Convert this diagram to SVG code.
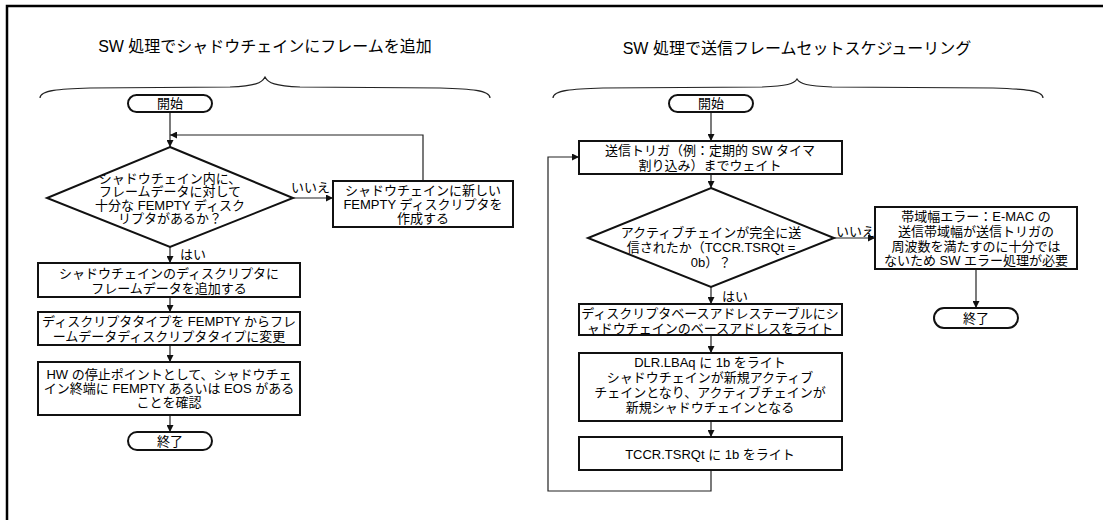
<svg xmlns="http://www.w3.org/2000/svg" width="1103" height="520" viewBox="0 0 1103 520">
<style>
text{font-family:"Liberation Sans","Noto Sans CJK JP",sans-serif;font-size:13px;fill:#000;text-anchor:middle;dominant-baseline:central}
.title{font-size:16px}
.box{fill:#fff;stroke:#111;stroke-width:2}
.term{fill:#fff;stroke:#111;stroke-width:2}
.dia{fill:#fff;stroke:#111;stroke-width:2}
.ln{fill:none;stroke:#222;stroke-width:1.2}
.brace{fill:none;stroke:#222;stroke-width:1.2}
.lbl{text-anchor:start}
</style>
<defs>
<marker id="ah" viewBox="0 0 10 10" refX="10" refY="5" markerWidth="9" markerHeight="7" markerUnits="userSpaceOnUse" orient="auto">
<path d="M0,0 L10,5 L0,10 z" fill="#111"/>
</marker>
</defs>
<rect x="7" y="6" width="1120" height="540" fill="none" stroke="#000" stroke-width="2.5"/>
<g id="titles">
<text class="title" x="265" y="46">SW 処理でシャドウチェインにフレームを追加</text>
<text class="title" x="797" y="48">SW 処理で送信フレームセットスケジューリング</text>
<path class="brace" d="M40,98 C40,90 60,89 90,88 L230,87 C255,86 262,83 265,77 C268,83 275,86 300,87 L440,88 C470,89 490,90 490,98"/>
<path class="brace" d="M553,98 C553,90 573,89 603,88 L762,87 C787,86 794,84 797,79 C800,84 807,86 832,87 L993,88 C1023,89 1043,90 1043,98"/>
</g>
<g id="connectors">
<path class="ln" d="M170,112 L170,147" marker-end="url(#ah)"/>
<path class="ln" d="M423,181 L423,135 L170,135" marker-end="url(#ah)"/>
<path class="ln" d="M293,198 L333,198" marker-end="url(#ah)"/>
<path class="ln" d="M170,247 L170,263" marker-end="url(#ah)"/>
<path class="ln" d="M170,297 L170,312" marker-end="url(#ah)"/>
<path class="ln" d="M170,345 L170,362" marker-end="url(#ah)"/>
<path class="ln" d="M170,415 L170,432" marker-end="url(#ah)"/>
<path class="ln" d="M711,112 L711,141" marker-end="url(#ah)"/>
<path class="ln" d="M711,174 L711,188" marker-end="url(#ah)"/>
<path class="ln" d="M834,238 L875,238" marker-end="url(#ah)"/>
<path class="ln" d="M976,269 L976,308" marker-end="url(#ah)"/>
<path class="ln" d="M711,287 L711,304" marker-end="url(#ah)"/>
<path class="ln" d="M711,335 L711,353" marker-end="url(#ah)"/>
<path class="ln" d="M711,421 L711,437" marker-end="url(#ah)"/>
<path class="ln" d="M711,470 L711,491 L548,491 L548,157 L579,157" marker-end="url(#ah)"/>
<text class="lbl" x="291" y="187">いいえ</text>
<text class="lbl" x="180" y="254">はい</text>
<text class="lbl" x="836" y="231">いいえ</text>
<text class="lbl" x="722" y="296">はい</text>
</g>
<g id="l_start">
<rect class="term" x="128" y="95" width="84" height="17" rx="8.5"/>
<text x="170" y="103.5">開始</text>
</g>
<g id="l_decision">
<polygon class="dia" points="170,147 293,198 170,247 47,198"/>
<text x="170" y="178">シャドウチェイン内に、</text>
<text x="170" y="191.5">フレームデータに対して</text>
<text x="170" y="205">十分な FEMPTY ディスク</text>
<text x="170" y="218.5">リプタがあるか？</text>
</g>
<g id="l_create">
<rect class="box" x="333" y="181" width="180" height="46"/>
<text x="423" y="190">シャドウチェインに新しい</text>
<text x="423" y="204">FEMPTY ディスクリプタを</text>
<text x="423" y="218">作成する</text>
</g>
<g id="l_add">
<rect class="box" x="38" y="263" width="262" height="34"/>
<text x="169" y="273.5">シャドウチェインのディスクリプタに</text>
<text x="169" y="288">フレームデータを追加する</text>
</g>
<g id="l_change">
<rect class="box" x="38" y="312" width="262" height="33"/>
<text x="169" y="321.5">ディスクリプタタイプを FEMPTY からフレ</text>
<text x="169" y="336">ームデータディスクリプタタイプに変更</text>
</g>
<g id="l_confirm">
<rect class="box" x="38" y="362" width="262" height="53"/>
<text x="169" y="374">HW の停止ポイントとして、シャドウチェ</text>
<text x="169" y="388">イン終端に FEMPTY あるいは EOS がある</text>
<text x="169" y="402">ことを確認</text>
</g>
<g id="l_end">
<rect class="term" x="128" y="432" width="84" height="18" rx="9"/>
<text x="170" y="441">終了</text>
</g>
<g id="r_start">
<rect class="term" x="669" y="95" width="84" height="17" rx="8.5"/>
<text x="711" y="103.5">開始</text>
</g>
<g id="r_wait">
<rect class="box" x="579" y="141" width="263" height="33"/>
<text x="710" y="150.5">送信トリガ（例：定期的 SW タイマ</text>
<text x="710" y="165">割り込み）までウェイト</text>
</g>
<g id="r_decision">
<polygon class="dia" points="711,188 834,238 711,287 588,238"/>
<text x="711" y="232">アクティブチェインが完全に送</text>
<text x="711" y="247">信されたか（TCCR.TSRQt =</text>
<text x="711" y="262">0b）？</text>
</g>
<g id="r_error">
<rect class="box" x="875" y="207" width="202" height="62"/>
<text x="976" y="216">帯域幅エラー：E-MAC の</text>
<text x="976" y="231">送信帯域幅が送信トリガの</text>
<text x="976" y="246">周波数を満たすのに十分では</text>
<text x="976" y="260">ないため SW エラー処理が必要</text>
</g>
<g id="r_end">
<rect class="term" x="934" y="308" width="84" height="20" rx="10"/>
<text x="976" y="318">終了</text>
</g>
<g id="r_write_base">
<rect class="box" x="579" y="304" width="263" height="31"/>
<text x="710" y="313">ディスクリプタベースアドレステーブルにシ</text>
<text x="710" y="328">ャドウチェインのベースアドレスをライト</text>
</g>
<g id="r_dlr">
<rect class="box" x="579" y="353" width="263" height="68"/>
<text x="710" y="362">DLR.LBAq に 1b をライト</text>
<text x="710" y="377">シャドウチェインが新規アクティブ</text>
<text x="710" y="392">チェインとなり、アクティブチェインが</text>
<text x="710" y="407">新規シャドウチェインとなる</text>
</g>
<g id="r_tccr">
<rect class="box" x="579" y="437" width="263" height="33"/>
<text x="710" y="454">TCCR.TSRQt に 1b をライト</text>
</g>
</svg>
